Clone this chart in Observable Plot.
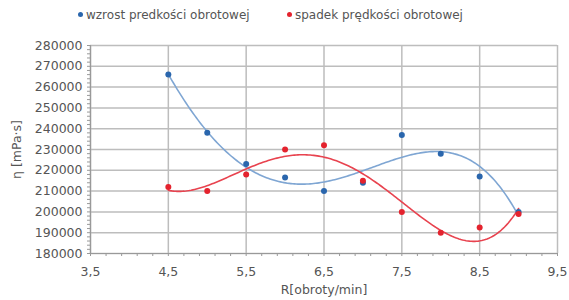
<!DOCTYPE html>
<html><head><meta charset="utf-8">
<script src="https://cdn.jsdelivr.net/npm/d3@7"></script>
<script src="https://cdn.jsdelivr.net/npm/@observablehq/plot@0.6"></script>
<style>
body{margin:0;background:#fff;font-family:"DejaVu Sans",sans-serif;}
#legend{height:30px;position:relative;font-size:12px;color:#555;}
#legend span.item{position:absolute;top:8px;white-space:nowrap;}
#legend i{display:inline-block;width:5px;height:5px;border-radius:50%;margin-right:3px;vertical-align:2px;}
</style></head>
<body>
<div id="legend"></div>
<div id="chart"></div>
<script>
const xs = [4.5, 5.0, 5.5, 6.0, 6.5, 7.0, 7.5, 8.0, 8.5, 9.0];
const wzrost = [266000, 238000, 223000, 216500, 210000, 214000, 237000, 228000, 217000, 200000];
const spadek = [212000, 210000, 218000, 230000, 232000, 215000, 200000, 190000, 192500, 199000];
const seriesNames = ["wzrost predkości obrotowej", "spadek prędkości obrotowej"];
const dotColors = ["#2a66ad", "#e4232e"];
const lineColors = ["#7fa6d3", "#e8434f"];
const xTicks = [3.5, 4.5, 5.5, 6.5, 7.5, 8.5, 9.5];
const yTicks = [180000, 190000, 200000, 210000, 220000, 230000, 240000, 250000, 260000, 270000, 280000];

// polynomial least squares fit (Excel-style trendline, order 4)
function polyFit(x, y, deg) {
  const m = d3.mean(x);
  const n = deg + 1;
  const A = Array.from({length: n}, () => new Array(n + 1).fill(0));
  x.forEach((xv, k) => {
    const t = xv - m;
    for (let i = 0; i < n; i++) {
      for (let j = 0; j < n; j++) A[i][j] += Math.pow(t, i + j);
      A[i][n] += y[k] * Math.pow(t, i);
    }
  });
  for (let c = 0; c < n; c++) {
    let p = c;
    for (let r = c + 1; r < n; r++) if (Math.abs(A[r][c]) > Math.abs(A[p][c])) p = r;
    [A[c], A[p]] = [A[p], A[c]];
    for (let r = 0; r < n; r++) {
      if (r === c) continue;
      const f = A[r][c] / A[c][c];
      for (let k = c; k <= n; k++) A[r][k] -= f * A[c][k];
    }
  }
  const coef = A.map((row, i) => row[n] / row[i]);
  return xv => coef.reduce((s, c, i) => s + c * Math.pow(xv - m, i), 0);
}

const seriesVals = [wzrost, spadek];
const points = [];
const curves = [];
seriesVals.forEach((vals, s) => {
  vals.forEach((v, i) => points.push({x: xs[i], y: v, s}));
  const f = polyFit(xs, vals, 4);
  const x0 = d3.min(xs), x1 = d3.max(xs);
  for (let k = 0; k <= 200; k++) {
    const xv = x0 + (x1 - x0) * k / 200;
    curves.push({x: xv, y: f(xv), s});
  }
});

const legend = document.getElementById("legend");
[78, 287].forEach((left, s) => {
  const el = document.createElement("span");
  el.className = "item";
  el.style.left = left + "px";
  el.innerHTML = `<i style="background:${dotColors[s]}"></i>${seriesNames[s]}`;
  legend.appendChild(el);
});

const fmtX = d => d.toFixed(1).replace(".", ",");
const minorX = d3.range(3.5, 9.5001, 0.2);
const minorY = d3.range(180000, 280001, 2000);

const chart = Plot.plot({
  width: 569,
  height: 270,
  marginTop: 15,
  marginBottom: 47,
  marginLeft: 90,
  marginRight: 12,
  style: {fontFamily: "DejaVu Sans, sans-serif", fontSize: "12.5px", color: "#555"},
  x: {domain: [3.5, 9.5]},
  y: {domain: [180000, 280000]},
  marks: [
    Plot.gridX(xTicks, {stroke: "#bdbdbd", strokeOpacity: 1, strokeWidth: 1.5}),
    Plot.gridY(yTicks, {stroke: "#bdbdbd", strokeOpacity: 1, strokeWidth: 1.5}),
    Plot.axisX(minorX, {tickSize: 3, text: null, stroke: "#999", label: null}),
    Plot.axisY(minorY, {tickSize: 3, text: null, stroke: "#999", label: null}),
    Plot.axisX(xTicks, {tickSize: 0, tickPadding: 14, tickFormat: fmtX, fill: "#555",
      label: "R[obroty/min]", labelAnchor: "center", labelArrow: "none", labelOffset: 40}),
    Plot.axisY(yTicks, {tickSize: 0, tickPadding: 8, tickFormat: d => String(d), fill: "#555",
      label: "η [mPa·s]", labelAnchor: "center", labelArrow: "none", labelOffset: 78}),
    Plot.ruleX([3.5], {stroke: "#999", strokeWidth: 1.2}),
    Plot.ruleY([180000], {stroke: "#999", strokeWidth: 1.2}),
    Plot.line(curves, {x: "x", y: "y", z: "s", stroke: d => lineColors[d.s], strokeWidth: 1.6, curve: "linear"}),
    Plot.dot(points, {x: "x", y: "y", r: 3, fill: d => dotColors[d.s], stroke: "none"})
  ]
});
document.getElementById("chart").appendChild(chart);
</script>
</body></html>
